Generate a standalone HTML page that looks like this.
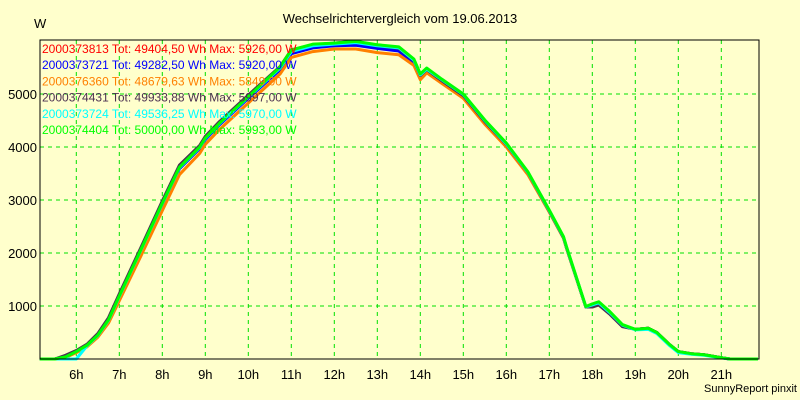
<!DOCTYPE html>
<html><head><meta charset="utf-8"><style>
body{margin:0;background:#FFFFCC;}
svg{display:block;font-family:"Liberation Sans",sans-serif;}
</style></head><body>
<svg id="chart" width="800" height="400">
<rect x="0" y="0" width="800" height="400" fill="#FFFFCC"/>
<text x="400" y="23" text-anchor="middle" font-size="13">Wechselrichtervergleich vom 19.06.2013</text>
<text x="34" y="28" font-size="13">W</text>
<text x="797" y="392" text-anchor="end" font-size="11">SunnyReport pinxit</text>
<g id="grid"></g><g id="series"></g><g id="axes"></g><g id="legend"></g>
</svg>
<script>
const hours=[5.15,5.5,5.75,6,6.25,6.5,6.75,7,7.5,7.71,8,8.4,8.87,9,9.33,10,10.74,11,11.5,12,12.5,13,13.5,13.85,14,14.15,14.5,15,15.5,16,16.5,17,17.33,17.4,17.85,18,18.15,18.4,18.7,19,19.3,19.5,19.8,20,20.3,20.6,21,21.2,21.85];
const greenVals=[0,0,40,140,260,450,740,1190,2060,2430,2940,3620,4000,4170,4450,4950,5510,5830,5940,5960,5993,5930,5890,5660,5380,5490,5280,5000,4510,4075,3535,2810,2310,2120,990,1040,1080,900,650,560,580,500,270,140,100,80,25,0,0];
const redVals=[0,0,40,140,260,450,740,1180,2040,2410,2920,3600,3980,4150,4430,4930,5470,5770,5880,5926,5926,5870,5830,5610,5330,5450,5240,4960,4470,4040,3510,2790,2290,2100,980,990,1030,860,620,560,580,500,270,140,100,80,25,0,0];
const blueVals=[0,0,30,130,250,440,730,1170,2030,2400,2910,3590,3970,4140,4420,4920,5460,5760,5870,5910,5920,5860,5810,5590,5310,5430,5220,4950,4460,4030,3500,2780,2290,2100,980,1000,1040,870,630,560,580,500,270,140,100,80,25,0,0];
const orangeVals=[0,0,30,120,230,410,680,1100,1940,2300,2800,3480,3880,4050,4330,4830,5380,5690,5800,5849,5849,5780,5740,5540,5270,5400,5200,4920,4430,4000,3480,2770,2280,2090,980,1010,1050,870,630,560,580,500,270,140,100,80,25,0,0];
const darkVals=[0,0,70,160,280,480,780,1230,2100,2470,2980,3660,4030,4200,4480,4980,5520,5830,5930,5960,5997,5910,5860,5630,5350,5460,5250,4970,4480,4050,3520,2790,2290,2100,980,980,1020,850,610,560,580,500,270,140,100,80,25,0,0];
const cyanVals=[0,0,0,0,250,440,730,1180,2050,2420,2930,3610,3990,4160,4440,4940,5490,5800,5910,5940,5970,5910,5870,5640,5360,5470,5270,4990,4500,4060,3525,2800,2300,2110,985,1020,1060,880,640,550,560,480,250,120,90,70,20,0,0];
const seriesNames=["2000373813","2000373721","2000376360","2000374431","2000373724","2000374404"];
const seriesTot=["49404,50","49282,50","48679,63","49933,88","49536,25","50000,00"];
const seriesMax=["5926,00","5920,00","5849,00","5997,00","5970,00","5993,00"];
const xTicks=[6,7,8,9,10,11,12,13,14,15,16,17,18,19,20,21];
const yTicks=[1000,2000,3000,4000,5000];

const NS="http://www.w3.org/2000/svg";
const L=40,R=759,T=40,B=359;
const x=h=>76.3+(h-6)*43;
const y=v=>B-v*0.053;
function mk(tag,attrs,parent){const e=document.createElementNS(NS,tag);for(const k in attrs)e.setAttribute(k,attrs[k]);parent.appendChild(e);return e;}
const grid=document.getElementById('grid'),axes=document.getElementById('axes'),ser=document.getElementById('series'),leg=document.getElementById('legend');
xTicks.forEach(h=>{
  const l=mk('line',{x1:x(h),x2:x(h),y1:T,y2:B,stroke:'#00E000','stroke-dasharray':'4,4'},grid);
  
  
  const t=mk('text',{x:x(h),y:379,'text-anchor':'middle','font-size':'13'},axes);
  t.textContent=h+'h';
  
  
});
yTicks.forEach(v=>{
  const l=mk('line',{x1:L,x2:R,y1:y(v),y2:y(v),stroke:'#00E000','stroke-dasharray':'4,4'},grid);
  
  
  const t=mk('text',{x:37,y:y(v)+5,'text-anchor':'end','font-size':'13'},axes);
  t.textContent=v;
  
  
});
const frame=mk('rect',{x:L,y:T,width:R-L,height:B-T,fill:'none',stroke:'#000','stroke-width':'1'},axes);


const allVals=[redVals,blueVals,orangeVals,darkVals,cyanVals,greenVals];
const colors=['#FF0000','#0000FF','#FF8000','#4B3050','#00FFFF','#00FF00'];
allVals.forEach((vals,i)=>{
  const p=mk('polyline',{points:hours.map((h,j)=>x(h)+','+y(vals[j])).join(' '),fill:'none',stroke:colors[i],'stroke-width':'3','stroke-linejoin':'round'},ser);
  
  
});
seriesNames.forEach((n,i)=>{
  const t=mk('text',{x:42,y:53+i*16.2,'font-size':'12',fill:colors[i]},leg);
  t.textContent=n+' Tot: '+seriesTot[i]+' Wh Max: '+seriesMax[i]+' W';
  
  
});
</script>
</body></html>
